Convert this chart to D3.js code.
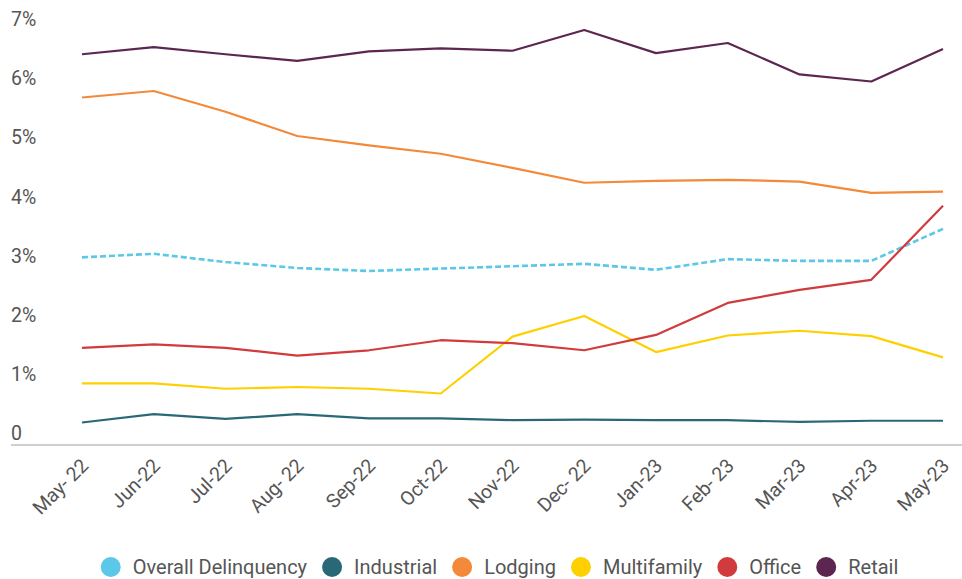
<!DOCTYPE html>
<html>
<head>
<meta charset="utf-8">
<script src="https://cdn.jsdelivr.net/npm/d3@7"></script>
<style>
    body { margin: 0; background: #fff; }
    svg { display: block; font-family: Roboto, "Noto Sans", sans-serif; }
</style>
</head>
<body>
<svg id="chart" width="962" height="579"></svg>
<script>
// months on the x axis (labels as printed, some with a space)
const months = ["May- 22", "Jun-22", "Jul-22", "Aug- 22", "Sep-22", "Oct-22", "Nov-22",
    "Dec- 22", "Jan-23", "Feb- 23", "Mar-23", "Apr-23", "May-23"];

// delinquency rates, %
const overall     = [3.17, 3.23, 3.09, 2.99, 2.94, 2.98, 3.02, 3.06, 2.96, 3.14, 3.11, 3.11, 3.65];
const industrial  = [0.38, 0.52, 0.44, 0.52, 0.45, 0.45, 0.42, 0.43, 0.42, 0.42, 0.39, 0.41, 0.41];
const lodging     = [5.87, 5.98, 5.63, 5.22, 5.06, 4.92, 4.68, 4.43, 4.46, 4.48, 4.45, 4.26, 4.28];
const multifamily = [1.04, 1.04, 0.95, 0.98, 0.95, 0.87, 1.83, 2.18, 1.57, 1.85, 1.93, 1.84, 1.48];
const office      = [1.64, 1.70, 1.64, 1.51, 1.60, 1.77, 1.72, 1.60, 1.86, 2.40, 2.62, 2.79, 4.04];
const retail      = [6.60, 6.72, 6.60, 6.49, 6.65, 6.70, 6.66, 7.01, 6.62, 6.79, 6.26, 6.14, 6.69];

const yTicks = [0, 1, 2, 3, 4, 5, 6, 7];

const series = [
    {name: "Overall Delinquency", values: overall,     color: "#5bc8e8", dash: "6,3"},
    {name: "Industrial",          values: industrial,  color: "#2a6877"},
    {name: "Lodging",             values: lodging,     color: "#f28a3a"},
    {name: "Multifamily",         values: multifamily, color: "#ffd000"},
    {name: "Office",              values: office,      color: "#d13b3d"},
    {name: "Retail",              values: retail,      color: "#5c2650"}
];

const svg = d3.select("#chart");
const textColor = "#555";

const x = d3.scalePoint().domain(months).range([82, 943]);
const y = d3.scaleLinear().domain([0, 7]).range([445, 30.6]);

// y axis: labels sit above their value, left aligned
const yAxis = svg.append("g")
    .attr("transform", "translate(11,-12)")
    .call(d3.axisLeft(y).tickValues(yTicks).tickSize(0)
        .tickFormat(d => d === 0 ? "0" : d + "%"));
yAxis.select(".domain").remove();
yAxis.selectAll("text")
    .attr("x", 0).attr("dy", "0.35em")
    .attr("text-anchor", "start")
    .style("font-family", "Roboto")
    .style("font-size", "19.5px")
    .attr("fill", textColor);

// baseline
svg.append("line")
    .attr("x1", 11).attr("x2", 962)
    .attr("y1", y(0)).attr("y2", y(0))
    .attr("stroke", "#cfcfcf").attr("stroke-width", 2);

// x axis with rotated labels
const xAxis = svg.append("g")
    .attr("transform", "translate(0," + y(0) + ")")
    .call(d3.axisBottom(x).tickSize(0));
xAxis.select(".domain").remove();
xAxis.selectAll("text")
    .attr("y", 0).attr("dy", 0)
    .attr("text-anchor", "end")
    .attr("transform", "translate(7,22) rotate(-45)")
    .style("font-family", "Roboto")
    .style("font-size", "19.5px")
    .attr("fill", textColor);

const line = d3.line()
    .x((d, i) => x(months[i]))
    .y(d => y(d));

svg.append("g")
    .selectAll("path")
    .data(series)
    .join("path")
    .attr("d", d => line(d.values))
    .attr("fill", "none")
    .attr("stroke", d => d.color)
    .attr("stroke-width", d => d.dash ? 2.6 : 2.2)
    .attr("stroke-dasharray", d => d.dash || null)
    .attr("stroke-linejoin", "round");

// legend, centered
const legend = svg.append("g");
const items = legend.selectAll("g")
    .data(series)
    .join("g");
items.append("circle")
    .attr("r", 10).attr("cy", 0)
    .attr("fill", d => d.color);
items.append("text")
    .attr("x", 22).attr("dy", "0.35em")
    .style("font-family", "Roboto")
    .style("font-size", "20px")
    .attr("fill", textColor)
    .text(d => d.name);

let offset = 0;
items.each(function () {
    const w = d3.select(this).select("text").node().getComputedTextLength();
    d3.select(this).attr("transform", "translate(" + offset + ",0)");
    offset += 22 + w + 25;
});
const legendWidth = offset - 25 + 10;
legend.attr("transform", "translate(" + (499.5 - legendWidth / 2 + 10) + ",567)");
</script>
</body>
</html>
